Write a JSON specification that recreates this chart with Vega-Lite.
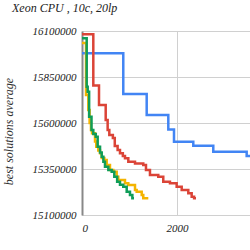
{
  "$schema": "https://vega.github.io/schema/vega-lite/v6.json",
  "width": 168,
  "height": 184,
  "autosize": "none",
  "padding": {"left": 82, "top": 31, "right": 0, "bottom": 35},
  "background": "white",
  "title": {
    "text": "Xeon CPU , 10c, 20lp",
    "anchor": "start",
    "frame": "group",
    "dx": -70,
    "offset": 10,
    "font": "Liberation Serif, Times New Roman, serif",
    "fontStyle": "italic",
    "fontWeight": "normal",
    "fontSize": 12,
    "color": "#222222"
  },
  "config": {
    "view": {"stroke": null},
    "font": "Liberation Serif, Times New Roman, serif"
  },
  "data": {
    "values": [
      {"run": "A", "time": 0, "best": 15979000},
      {"run": "A", "time": 869, "best": 15757600},
      {"run": "A", "time": 1362, "best": 15643500},
      {"run": "A", "time": 1817, "best": 15564650},
      {"run": "A", "time": 1937, "best": 15498350},
      {"run": "A", "time": 2343, "best": 15476600},
      {"run": "A", "time": 2764, "best": 15444000},
      {"run": "A", "time": 3467, "best": 15420600},
      {"run": "A", "time": 3537, "best": 15420600},

      {"run": "B", "time": 0, "best": 16082000},
      {"run": "B", "time": 238, "best": 15803800},
      {"run": "B", "time": 358, "best": 15697800},
      {"run": "B", "time": 499, "best": 15616300},
      {"run": "B", "time": 540, "best": 15562000},
      {"run": "B", "time": 575, "best": 15534800},
      {"run": "B", "time": 650, "best": 15518500},
      {"run": "B", "time": 690, "best": 15475000},
      {"run": "B", "time": 750, "best": 15453300},
      {"run": "B", "time": 800, "best": 15435300},
      {"run": "B", "time": 860, "best": 15420600},
      {"run": "B", "time": 905, "best": 15408100},
      {"run": "B", "time": 975, "best": 15389700},
      {"run": "B", "time": 1116, "best": 15380000},
      {"run": "B", "time": 1290, "best": 15371700},
      {"run": "B", "time": 1347, "best": 15344600},
      {"run": "B", "time": 1431, "best": 15317400},
      {"run": "B", "time": 1606, "best": 15308100},
      {"run": "B", "time": 1711, "best": 15281000},
      {"run": "B", "time": 1852, "best": 15272300},
      {"run": "B", "time": 1993, "best": 15253800},
      {"run": "B", "time": 2099, "best": 15235800},
      {"run": "B", "time": 2238, "best": 15217900},
      {"run": "B", "time": 2309, "best": 15199400},
      {"run": "B", "time": 2360, "best": 15190700},
      {"run": "B", "time": 2400, "best": 15190700},

      {"run": "C", "time": 0, "best": 16034800},
      {"run": "C", "time": 85, "best": 15752200},
      {"run": "C", "time": 133, "best": 15670600},
      {"run": "C", "time": 160, "best": 15600000},
      {"run": "C", "time": 189, "best": 15561900},
      {"run": "C", "time": 211, "best": 15544000},
      {"run": "C", "time": 274, "best": 15500000},
      {"run": "C", "time": 300, "best": 15471200},
      {"run": "C", "time": 343, "best": 15450000},
      {"run": "C", "time": 380, "best": 15435300},
      {"run": "C", "time": 415, "best": 15410000},
      {"run": "C", "time": 470, "best": 15398900},
      {"run": "C", "time": 520, "best": 15371700},
      {"run": "C", "time": 589, "best": 15344600},
      {"run": "C", "time": 659, "best": 15335300},
      {"run": "C", "time": 730, "best": 15308100},
      {"run": "C", "time": 764, "best": 15290200},
      {"run": "C", "time": 905, "best": 15272300},
      {"run": "C", "time": 975, "best": 15263000},
      {"run": "C", "time": 1116, "best": 15235800},
      {"run": "C", "time": 1151, "best": 15226600},
      {"run": "C", "time": 1257, "best": 15208700},
      {"run": "C", "time": 1290, "best": 15190700},
      {"run": "C", "time": 1396, "best": 15190700},

      {"run": "D", "time": 0, "best": 16060000},
      {"run": "D", "time": 99, "best": 15797300},
      {"run": "D", "time": 120, "best": 15770100},
      {"run": "D", "time": 150, "best": 15634200},
      {"run": "D", "time": 200, "best": 15561900},
      {"run": "D", "time": 238, "best": 15540000},
      {"run": "D", "time": 290, "best": 15525500},
      {"run": "D", "time": 330, "best": 15471200},
      {"run": "D", "time": 380, "best": 15440000},
      {"run": "D", "time": 415, "best": 15416800},
      {"run": "D", "time": 450, "best": 15390000},
      {"run": "D", "time": 484, "best": 15362500},
      {"run": "D", "time": 554, "best": 15344500},
      {"run": "D", "time": 625, "best": 15335300},
      {"run": "D", "time": 680, "best": 15308100},
      {"run": "D", "time": 740, "best": 15281000},
      {"run": "D", "time": 800, "best": 15265000},
      {"run": "D", "time": 869, "best": 15253800},
      {"run": "D", "time": 941, "best": 15226600},
      {"run": "D", "time": 1010, "best": 15208700},
      {"run": "D", "time": 1060, "best": 15190700},
      {"run": "D", "time": 1095, "best": 15190700}
    ]
  },
  "mark": {"type": "line", "interpolate": "step-after", "strokeWidth": 2.5, "clip": true},
  "encoding": {
    "x": {
      "field": "time",
      "type": "quantitative",
      "scale": {"domain": [0, 3537], "nice": false, "zero": false},
      "axis": {
        "title": null,
        "values": [0, 2000],
        "format": "d",
        "ticks": false,
        "labelFont": "Liberation Serif, Times New Roman, serif",
        "labelFontStyle": "italic",
        "labelFontSize": 11,
        "labelColor": "#222222",
        "labelPadding": 7,
        "gridColor": "#d0d0d0",
        "gridWidth": 1,
        "domainColor": "#d0d0d0",
        "domainWidth": 1
      }
    },
    "y": {
      "field": "best",
      "type": "quantitative",
      "scale": {"domain": [15100000, 16100000], "nice": false, "zero": false},
      "axis": {
        "values": [15100000, 15350000, 15600000, 15850000, 16100000],
        "format": "d",
        "ticks": false,
        "labelFont": "Liberation Serif, Times New Roman, serif",
        "labelFontStyle": "italic",
        "labelFontSize": 11,
        "labelColor": "#222222",
        "labelPadding": 6,
        "gridColor": "#d0d0d0",
        "gridWidth": 1,
        "domainColor": "#888888",
        "domainWidth": 2,
        "title": "best solutions average",
        "titleFont": "Liberation Serif, Times New Roman, serif",
        "titleFontStyle": "italic",
        "titleFontWeight": "normal",
        "titleFontSize": 12,
        "titleColor": "#333333",
        "titleX": -74,
        "titleY": 100,
        "titleAngle": -90,
        "titleAlign": "center",
        "titleBaseline": "middle"
      }
    },
    "color": {
      "field": "run",
      "type": "nominal",
      "scale": {"domain": ["A", "B", "C", "D"], "range": ["#4285f4", "#db4437", "#f4b400", "#0f9d58"]},
      "legend": null
    }
  }
}
